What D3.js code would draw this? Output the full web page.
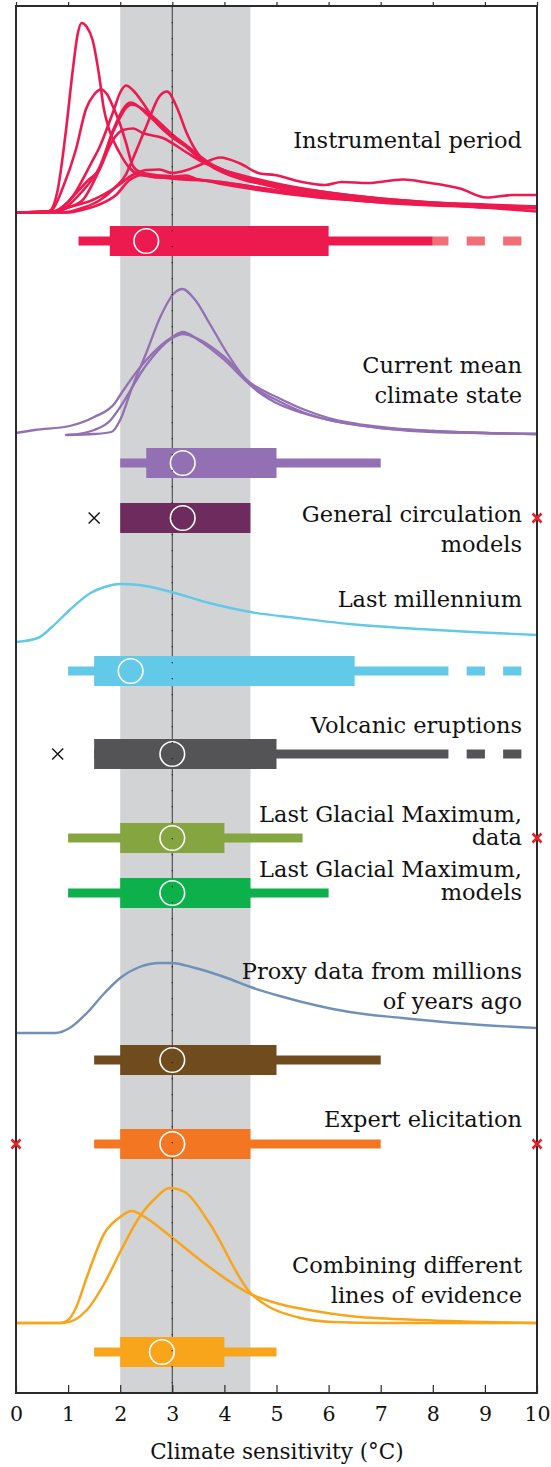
<!DOCTYPE html>
<html><head><meta charset="utf-8">
<script src="https://cdn.jsdelivr.net/npm/d3@7"></script>
<style>html,body{margin:0;padding:0;background:#fff}svg{display:block}</style>
</head><body><svg id="chart" width="551" height="1467"></svg>
<script>
// ---------------- DATA ----------------
const categories = [
  "Instrumental period", "Current mean climate state", "General circulation models",
  "Last millennium", "Volcanic eruptions", "Last Glacial Maximum, data",
  "Last Glacial Maximum, models", "Proxy data from millions of years ago",
  "Expert elicitation", "Combining different lines of evidence"
];
const labelLines = [
  ["Instrumental period"], ["Current mean", "climate state"], ["General circulation", "models"],
  ["Last millennium"], ["Volcanic eruptions"], ["Last Glacial Maximum,", "data"],
  ["Last Glacial Maximum,", "models"], ["Proxy data from millions", "of years ago"],
  ["Expert elicitation"], ["Combining different", "lines of evidence"]
];
const bestEstimate   = [2.5, 3.2, 3.2, 2.2, 3.0, 3.0, 3.0, 3.0, 3.0, 2.8];
const likelyLow      = [1.8, 2.5, 2.0, 1.5, 1.5, 2.0, 2.0, 2.0, 2.0, 2.0];
const likelyHigh     = [6.0, 5.0, 4.5, 6.5, 5.0, 4.0, 4.5, 5.0, 4.5, 4.0];
const veryLikelyLow  = [1.2, 2.0, null, 1.0, 1.5, 1.0, 1.0, 1.5, 1.5, 1.5];
const veryLikelyHigh = [8.0, 7.0, null, 8.3, 8.3, 5.5, 6.0, 7.0, 7.0, 5.0];
const tailSolidTo    = [8.3, null, null, 8.3, 8.3, null, null, null, null, null];
const tailDashTo     = [9.7, null, null, 9.7, 9.7, null, null, null, null, null];
const blackOutliers  = [[], [], [1.5], [], [0.8], [], [], [], [], []];
const redOutliers    = [[], [], [10], [], [], [10], [], [], [0, 10], []];
const tickValues = [0, 1, 2, 3, 4, 5, 6, 7, 8, 9, 10];
const tickLabels = ["0", "1", "2", "3", "4", "5", "6", "7", "8", "9", "10"];
const axisTitle = "Climate sensitivity (°C)";
const likelyRange = [2.0, 4.5];
const centralValue = 3.0;

// probability densities [sensitivity, density]
const instrumentalPdfs = [
  [[0,0],[0.5,0.005],[0.64,0.015],[0.8,0.225],[0.96,0.825],[1.09,1.425],[1.18,1.775],[1.26,1.895],[1.36,1.855],[1.47,1.725],[1.6,1.355],[1.68,1.055],[1.79,0.825],[1.98,0.605],[2.18,0.445],[2.4,0.375],[2.8,0.35],[3.2,0.33],[3.6,0.32],[4,0.28],[5,0.2],[6,0.14],[7,0.11],[8,0.08],[9,0.06],[10,0.05]],
  [[0,0],[0.6,0.01],[0.7,0.03],[0.9,0.25],[1.15,0.63],[1.34,1.03],[1.5,1.18],[1.63,1.23],[1.75,1.18],[1.86,1.06],[2.0,0.88],[2.11,0.7],[2.24,0.47],[2.4,0.4],[2.6,0.38],[3.0,0.36],[3.5,0.33],[4,0.3],[5,0.22],[6,0.15],[7,0.11],[8,0.08],[9,0.06],[10,0.05]],
  [[0,0],[0.7,0.01],[0.9,0.06],[1.1,0.17],[1.28,0.33],[1.45,0.5],[1.6,0.65],[1.86,1.0],[2.0,1.2],[2.11,1.27],[2.25,1.22],[2.43,1.1],[2.69,0.9],[3.0,0.75],[3.26,0.66],[3.5,0.55],[3.8,0.45],[4.2,0.38],[4.6,0.33],[5,0.28],[6,0.2],[7,0.14],[8,0.1],[9,0.08],[10,0.06]],
  [[0,0],[0.75,0.01],[0.95,0.08],[1.2,0.22],[1.4,0.33],[1.6,0.43],[1.86,0.82],[2.2,1.1],[2.56,0.96],[3.0,0.76],[3.26,0.66],[3.6,0.52],[4.0,0.42],[4.5,0.33],[5,0.27],[6,0.18],[7,0.13],[8,0.09],[9,0.07],[10,0.05]],
  [[0,0],[0.8,0.01],[1.0,0.07],[1.25,0.2],[1.6,0.45],[1.86,0.8],[2.22,1.08],[2.6,0.97],[3.0,0.78],[3.3,0.66],[3.7,0.5],[4.2,0.38],[5,0.25],[6,0.16],[7,0.1],[8,0.08],[9,0.05],[10,0.04]],
  [[0,0],[0.9,0.0],[1.3,0.05],[1.6,0.12],[1.9,0.25],[2.12,0.39],[2.18,0.46],[2.5,0.86],[2.75,1.16],[2.9,1.21],[3.08,1.06],[3.28,0.79],[3.53,0.56],[3.85,0.43],[4.17,0.36],[5,0.25],[6,0.15],[7,0.1],[8,0.07],[9,0.06],[10,0.05]],
  [[0,0],[0.75,0.01],[1.0,0.05],[1.28,0.125],[1.6,0.425],[1.86,0.725],[2.05,0.825],[2.25,0.84],[2.43,0.795],[2.82,0.745],[3.26,0.605],[3.6,0.5],[4.0,0.42],[4.5,0.35],[5,0.29],[6,0.2],[7,0.14],[8,0.1],[9,0.07],[10,0.06]],
  [[0,0],[0.75,0.01],[1.0,0.05],[1.47,0.125],[1.92,0.255],[2.24,0.375],[2.5,0.425],[2.75,0.43],[3.0,0.395],[3.28,0.425],[3.53,0.475],[3.92,0.55],[4.3,0.49],[4.68,0.39],[4.97,0.375],[5.45,0.31],[5.93,0.275],[6.25,0.305],[6.76,0.295],[7.43,0.33],[7.88,0.3],[8.52,0.24],[9.03,0.15],[9.55,0.175],[10,0.175]],
  [[0,0],[0.96,0.0],[1.3,0.03],[1.6,0.08],[1.92,0.175],[2.18,0.325],[2.43,0.375],[2.7,0.35],[3.0,0.355],[3.26,0.37],[3.5,0.33],[4.0,0.3],[4.5,0.26],[5,0.22],[6,0.16],[7,0.12],[8,0.09],[9,0.05],[10,0.01]]
];
const currentStatePdfs = [
  [[0,0.02],[0.36,0.05],[1.03,0.09],[1.5,0.18],[1.9,0.32],[2.0,0.4],[2.5,0.75],[3.0,0.98],[3.2,1.03],[3.5,0.95],[4.0,0.75],[4.5,0.5],[5.0,0.35],[5.5,0.23],[6,0.15],[7,0.07],[8,0.04],[9,0.02],[10,0.01]],
  [[0.96,0.0],[1.3,0.02],[1.5,0.05],[1.8,0.14],[2.0,0.28],[2.5,0.7],[3.0,0.97],[3.2,1.01],[3.5,0.96],[4.0,0.78],[4.5,0.52],[5.0,0.38],[5.5,0.26],[6,0.17],[7,0.08],[8,0.04],[9,0.02],[10,0.01]],
  [[1.0,0.0],[1.5,0.01],[1.83,0.03],[2.0,0.15],[2.23,0.48],[2.5,0.82],[2.77,1.18],[3.04,1.42],[3.19,1.46],[3.44,1.35],[3.71,1.12],[4.05,0.82],[4.5,0.5],[5.0,0.32],[5.5,0.22],[6,0.15],[7,0.07],[8,0.03],[9,0.02],[10,0.01]]
];
const lastMillenniumPdf = [[0,0.03],[0.42,0.07],[0.69,0.18],[1.03,0.35],[1.43,0.52],[1.7,0.58],[2.0,0.61],[2.37,0.6],[2.98,0.53],[3.71,0.42],[4.5,0.33],[5.39,0.27],[6.4,0.21],[7.75,0.16],[8.75,0.13],[10,0.1]];
const proxyPdf = [[0,0],[0.76,0.0],[1.03,0.05],[1.36,0.2],[1.7,0.4],[2.0,0.55],[2.37,0.66],[2.77,0.7],[2.98,0.7],[3.44,0.65],[4.05,0.55],[4.5,0.46],[5.06,0.37],[5.73,0.28],[6.4,0.21],[7.41,0.15],[8.42,0.1],[10,0.05]];
const combinedPdfs = [
  [[0,0],[0.86,0],[1.0,0.03],[1.15,0.15],[1.36,0.46],[1.7,0.9],[2.0,1.06],[2.22,1.12],[2.5,1.05],[2.98,0.86],[3.71,0.56],[4.5,0.29],[5.06,0.19],[5.73,0.12],[6.4,0.07],[7.75,0.03],[10,0.0]],
  [[0,0],[0.9,0],[1.36,0.13],[1.7,0.4],[2.0,0.71],[2.37,1.06],[2.7,1.26],[2.94,1.35],[3.24,1.31],[3.71,1.0],[4.5,0.3],[4.86,0.16],[5.39,0.06],[6.07,0.01],[7.07,0.0],[10,0]]
];

// ---------------- LAYOUT & STYLE ----------------
const plotL = 16, plotR = 537, plotT = 6, plotB = 1393;
const barY = [241, 463, 518, 671, 754, 838, 893, 1060, 1144, 1352];
const labelBaselines = [[148], [373, 403], [522, 552], [607], [733], [822, 845], [877, 900], [979, 1009], [1127], [1273, 1303]];
const barColors = ["#ec1a4f", "#9370b3", "#6e2c5e", "#62c9e8", "#545456", "#85a541", "#0db14b", "#6f4b1e", "#f37723", "#f9a51c"];
const tailColors = ["#f26e76", null, null, "#62c9e8", "#545456", null, null, null, null, null];
const fontFam = "'DejaVu Serif', serif";

const svg = d3.select("#chart");
const x = d3.scaleLinear().domain([0, 10]).range([plotL, plotR]);

// shaded likely range
svg.append("rect").attr("x", x(likelyRange[0])).attr("y", plotT)
  .attr("width", x(likelyRange[1]) - x(likelyRange[0])).attr("height", plotB - plotT)
  .attr("fill", "#d1d3d5");
// central line
svg.append("line").attr("x1", x(centralValue)).attr("x2", x(centralValue))
  .attr("y1", plotT).attr("y2", plotB).attr("stroke", "#4a4a4a").attr("stroke-width", 1.1);

// clip
svg.append("clipPath").attr("id", "clip").append("rect")
  .attr("x", plotL).attr("y", plotT).attr("width", plotR - plotL).attr("height", plotB - plotT);
const plot = svg.append("g").attr("clip-path", "url(#clip)");

function drawPdfs(pdfs, base, color, width) {
  const y = d3.scaleLinear().domain([0, 1]).range([base, base - 100]);
  const line = d3.line().x(d => x(d[0])).y(d => y(d[1])).curve(d3.curveMonotoneX);
  plot.append("g").selectAll("path").data(pdfs).join("path")
    .attr("d", line).attr("fill", "none").attr("stroke", color)
    .attr("stroke-width", width).attr("stroke-linejoin", "round").attr("stroke-linecap", "round");
}
drawPdfs(instrumentalPdfs, 212.5, "#ec1a4f", 2.6);
drawPdfs(currentStatePdfs, 435, "#9370b3", 2.3);
drawPdfs([lastMillenniumPdf], 645, "#62c9e8", 2.4);
drawPdfs([proxyPdf], 1033, "#7190b8", 2.4);
drawPdfs(combinedPdfs, 1323, "#f8a51b", 2.5);

// bars
const thickH = 30, thinH = 9;
const bars = svg.append("g");
categories.forEach((c, i) => {
  const y0 = barY[i];
  const g = bars.append("g");
  if (veryLikelyLow[i] != null) {
    g.append("rect").attr("x", x(veryLikelyLow[i])).attr("y", y0 - thinH / 2)
      .attr("width", x(veryLikelyHigh[i]) - x(veryLikelyLow[i])).attr("height", thinH)
      .attr("fill", barColors[i]);
  }
  if (tailSolidTo[i] != null) {
    g.append("rect").attr("x", x(veryLikelyHigh[i])).attr("y", y0 - thinH / 2)
      .attr("width", x(tailSolidTo[i]) - x(veryLikelyHigh[i])).attr("height", thinH)
      .attr("fill", tailColors[i]);
    const dashes = [];
    for (let s = tailSolidTo[i] + 0.35; s < tailDashTo[i] - 0.01; s += 0.7) dashes.push([s, Math.min(s + 0.35, tailDashTo[i])]);
    g.selectAll(".dash").data(dashes).join("rect")
      .attr("x", d => x(d[0])).attr("y", y0 - thinH / 2)
      .attr("width", d => x(d[1]) - x(d[0])).attr("height", thinH)
      .attr("fill", tailColors[i]);
  }
  g.append("rect").attr("x", x(likelyLow[i])).attr("y", y0 - thickH / 2)
    .attr("width", x(likelyHigh[i]) - x(likelyLow[i])).attr("height", thickH)
    .attr("fill", barColors[i]);
  g.append("circle").attr("cx", x(bestEstimate[i])).attr("cy", y0).attr("r", 12.3)
    .attr("fill", "none").attr("stroke", "#fff").attr("stroke-width", 1.6);
  blackOutliers[i].forEach(v => {
    const s = 5.5;
    g.append("path").attr("d", `M${x(v) - s},${y0 - s}L${x(v) + s},${y0 + s}M${x(v) - s},${y0 + s}L${x(v) + s},${y0 - s}`)
      .attr("stroke", "#111").attr("stroke-width", 1.4).attr("fill", "none");
  });
});

// dotted overlay on central line
svg.append("line").attr("x1", x(centralValue)).attr("x2", x(centralValue))
  .attr("y1", plotT).attr("y2", plotB).attr("stroke", "#222").attr("stroke-width", 1.4)
  .attr("stroke-dasharray", "1.3,14.7").attr("opacity", 0.85);

// frame
svg.append("rect").attr("x", plotL).attr("y", plotT).attr("width", plotR - plotL).attr("height", plotB - plotT)
  .attr("fill", "none").attr("stroke", "#2b2b2b").attr("stroke-width", 2);

// red outlier markers (on top of frame)
categories.forEach((c, i) => {
  const y0 = barY[i];
  redOutliers[i].forEach(v => {
    const s = 4.5;
    svg.append("path").attr("d", `M${x(v) - s},${y0 - s}L${x(v) + s},${y0 + s}M${x(v) - s},${y0 + s}L${x(v) + s},${y0 - s}`)
      .attr("stroke", "#e3202b").attr("stroke-width", 2.6).attr("fill", "none");
  });
});

// axes
const axB = svg.append("g").attr("transform", `translate(0,${plotB})`)
  .call(d3.axisBottom(x).tickValues(tickValues).tickFormat((d, i) => tickLabels[i])
    .tickSizeInner(-8).tickSizeOuter(0).tickPadding(13));
axB.select(".domain").remove();
axB.selectAll("line").attr("stroke", "#2b2b2b").attr("stroke-width", 1.2);
axB.selectAll("text").attr("font-family", fontFam).attr("font-size", 20.5).attr("fill", "#111");
const axT = svg.append("g").attr("transform", `translate(0,${plotT})`)
  .call(d3.axisTop(x).tickValues(tickValues).tickFormat("").tickSizeInner(4).tickSizeOuter(0));
axT.select(".domain").remove();
axT.selectAll("line").attr("stroke", "#2b2b2b").attr("stroke-width", 1.2);

svg.append("text").attr("x", 277).attr("y", 1459).attr("text-anchor", "middle")
  .attr("font-family", fontFam).attr("font-size", 21.5).attr("fill", "#111").text(axisTitle);

// labels
const lab = svg.append("g").attr("font-family", fontFam).attr("font-size", 22.5).attr("fill", "#111").attr("text-anchor", "end");
labelLines.forEach((lines, i) => {
  lines.forEach((t, j) => {
    lab.append("text").attr("x", 522).attr("y", labelBaselines[i][j]).text(t);
  });
});
</script></body></html>
